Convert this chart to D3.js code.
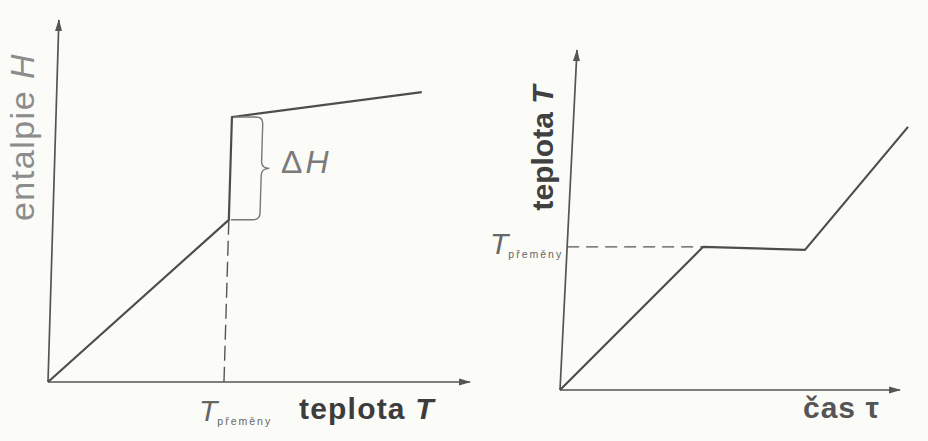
<!DOCTYPE html>
<html>
<head>
<meta charset="utf-8">
<script src="https://cdn.jsdelivr.net/npm/d3@7"></script>
<style>
  body { margin: 0; background: #fbfbf8; }
  svg { display: block; font-family: "Liberation Sans", Arial, sans-serif; }
</style>
</head>
<body>
<script>
// left chart: enthalpy H against temperature T (values in % of axis length)
var leftT = [0, 41.7, 41.7, 86.5];
var leftH = [0, 44.8, 73.2, 80.1];
var leftTransitionIndex = 1; // start of the jump (T přeměny)

// right chart: temperature T against time tau
var rightTau = [0, 40, 70, 98.5];
var rightTemp = [0, 42.1, 41.2, 77.4];
var rightTransitionIndex = 1;

var axisDomain = [0, 100];

var W = 928, H = 441;
var svg = d3.select("body").append("svg")
    .attr("width", W)
    .attr("height", H);

// arrowhead for the axes
svg.append("defs").append("marker")
    .attr("id", "arrow")
    .attr("viewBox", "0 -5 12 10")
    .attr("refX", 11)
    .attr("refY", 0)
    .attr("markerWidth", 12)
    .attr("markerHeight", 10)
    .attr("markerUnits", "userSpaceOnUse")
    .attr("orient", "auto")
  .append("path")
    .attr("d", "M0,-3.5L12,0L0,3.5Z")
    .attr("fill", "#555");

var lineColor = "#4d4d4d";

// the scan is slightly skewed, so each panel gets a small skewX
function panel(ox, oy, w, h, skew) {
    var g = svg.append("g")
        .attr("transform", "translate(" + ox + "," + oy + ") skewX(" + (-skew) + ")");
    var x = d3.scaleLinear().domain(axisDomain).range([0, w]);
    var y = d3.scaleLinear().domain(axisDomain).range([0, -h]);
    // axes
    g.append("line")
        .attr("x1", x(0)).attr("y1", y(0))
        .attr("x2", x(100)).attr("y2", y(0))
        .attr("stroke", "#555").attr("stroke-width", 1.7)
        .attr("marker-end", "url(#arrow)");
    g.append("line")
        .attr("x1", x(0)).attr("y1", y(0))
        .attr("x2", x(0)).attr("y2", y(100))
        .attr("stroke", "#555").attr("stroke-width", 1.7)
        .attr("marker-end", "url(#arrow)");
    return { g: g, x: x, y: y };
}

// ---- left panel ----
var L = panel(48, 382, 422, 362, 1.72);
var leftPts = leftT.map(function (t, i) { return [t, leftH[i]]; });

// dashed drop line at T přeměny
L.g.append("line")
    .attr("x1", L.x(leftT[leftTransitionIndex])).attr("y1", L.y(leftH[leftTransitionIndex]))
    .attr("x2", L.x(leftT[leftTransitionIndex])).attr("y2", L.y(0))
    .attr("stroke", "#555").attr("stroke-width", 1.4)
    .attr("stroke-dasharray", "15,6");

L.g.append("path")
    .datum(leftPts)
    .attr("fill", "none")
    .attr("stroke", lineColor)
    .attr("stroke-width", 2.2)
    .attr("stroke-linejoin", "round")
    .attr("d", d3.line()
        .x(function (d) { return L.x(d[0]); })
        .y(function (d) { return L.y(d[1]); }));

// curly brace for delta H
(function () {
    var x0 = L.x(leftT[leftTransitionIndex]) + 2;
    var x1 = x0 + 29;
    var tip = x1 + 8;
    var yT = L.y(leftH[leftTransitionIndex + 1]);
    var yB = L.y(leftH[leftTransitionIndex]);
    var ym = (yT + yB) / 2;
    var r = 7;
    var p = d3.path();
    p.moveTo(x0, yT);
    p.lineTo(x1 - r, yT);
    p.quadraticCurveTo(x1, yT, x1, yT + r);
    p.lineTo(x1, ym - r);
    p.quadraticCurveTo(x1, ym, tip, ym);
    p.quadraticCurveTo(x1, ym, x1, ym + r);
    p.lineTo(x1, yB - r);
    p.quadraticCurveTo(x1, yB, x1 - r, yB);
    p.lineTo(x0, yB);
    L.g.append("path")
        .attr("d", p.toString())
        .attr("fill", "none")
        .attr("stroke", "#777")
        .attr("stroke-width", 1.4);
})();

// ---- right panel ----
var R = panel(560, 390, 340, 340, 2.86);
var rightPts = rightTau.map(function (t, i) { return [t, rightTemp[i]]; });

R.g.append("line")
    .attr("x1", R.x(0)).attr("y1", R.y(rightTemp[rightTransitionIndex]))
    .attr("x2", R.x(rightTau[rightTransitionIndex])).attr("y2", R.y(rightTemp[rightTransitionIndex]))
    .attr("stroke", "#555").attr("stroke-width", 1.4)
    .attr("stroke-dasharray", "12,7");

R.g.append("path")
    .datum(rightPts)
    .attr("fill", "none")
    .attr("stroke", lineColor)
    .attr("stroke-width", 2.2)
    .attr("stroke-linejoin", "round")
    .attr("d", d3.line()
        .x(function (d) { return R.x(d[0]); })
        .y(function (d) { return R.y(d[1]); }));

// ---- labels ----
function tLabel(x, y) {
    var t = svg.append("text")
        .attr("x", x).attr("y", y)
        .attr("fill", "#666");
    t.append("tspan")
        .attr("font-size", 30)
        .attr("font-style", "italic")
        .attr("font-weight", 300)
        .text("T");
    t.append("tspan")
        .attr("font-size", 10.5)
        .attr("dy", 4)
        .attr("letter-spacing", 2)
        .text("přeměny");
}

// left
svg.append("text")
    .attr("transform", "translate(34,137) rotate(-90)")
    .attr("text-anchor", "middle")
    .attr("font-size", 34)
    .attr("letter-spacing", 1.5)
    .attr("fill", "#8c8c8c")
    .html('entalpie <tspan font-style="italic">H</tspan>');

svg.append("text")
    .attr("x", 281).attr("y", 173)
    .attr("font-size", 32)
    .attr("fill", "#7a7a7a")
    .attr("letter-spacing", 3)
    .html('Δ<tspan font-style="italic">H</tspan>');

tLabel(199, 421);

svg.append("text")
    .attr("x", 299).attr("y", 419)
    .attr("font-size", 30)
    .attr("font-weight", "bold")
    .attr("letter-spacing", 1.2)
    .attr("fill", "#3c3c3c")
    .html('teplota <tspan font-style="italic">T</tspan>');

// right
tLabel(490, 254);

svg.append("text")
    .attr("transform", "translate(553,148) rotate(-90)")
    .attr("text-anchor", "middle")
    .attr("font-size", 30)
    .attr("font-weight", "bold")
    .attr("fill", "#404040")
    .html('teplota <tspan font-style="italic">T</tspan>');

svg.append("text")
    .attr("x", 803).attr("y", 418)
    .attr("font-size", 30)
    .attr("font-weight", "bold")
    .attr("letter-spacing", 1)
    .attr("fill", "#555")
    .text("čas τ");
</script>
</body>
</html>
